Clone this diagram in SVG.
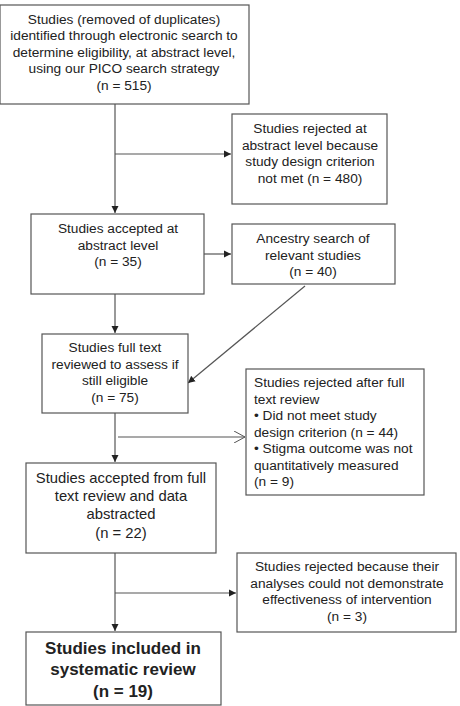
<svg xmlns="http://www.w3.org/2000/svg" width="460" height="706" viewBox="0 0 460 706">
<style>
.box{fill:#fff;stroke:#555;stroke-width:1.2}
.t{font-family:"Liberation Sans",Arial,sans-serif;font-size:13.7px;fill:#222;text-anchor:middle}
.l{text-anchor:start}
.m{font-size:14.8px}
.b{font-size:17px;font-weight:bold}
.c{fill:none;stroke:#555;stroke-width:1.2}
</style>
<defs>
<marker id="ah" markerWidth="8" markerHeight="8" refX="7" refY="4" orient="auto" markerUnits="userSpaceOnUse">
<path d="M0,0.5 L7,4 L0,7.5 Z" fill="#222"/>
</marker>
<marker id="oh" markerWidth="12" markerHeight="12" refX="11" refY="6" orient="auto" markerUnits="userSpaceOnUse">
<path d="M0,0 L11,6 L0,12" fill="none" stroke="#555" stroke-width="1"/>
</marker>
</defs>
<g id="connectors">
<line class="c" x1="115" y1="104" x2="115" y2="213" marker-end="url(#ah)"/>
<line class="c" x1="115" y1="154" x2="231" y2="154" marker-end="url(#ah)"/>
<line class="c" x1="204" y1="254" x2="231" y2="254" marker-end="url(#ah)"/>
<line class="c" x1="115" y1="294" x2="115" y2="333" marker-end="url(#ah)"/>
<line class="c" x1="305" y1="286" x2="188" y2="383" marker-end="url(#ah)"/>
<line class="c" x1="115" y1="413" x2="115" y2="462" marker-end="url(#ah)"/>
<line class="c" x1="118" y1="437" x2="245" y2="437" marker-end="url(#oh)"/>
<line class="c" x1="115" y1="553" x2="115" y2="631" marker-end="url(#ah)"/>
<line class="c" x1="115" y1="593" x2="236" y2="593" marker-end="url(#ah)"/>
</g>
<g id="n1">
<rect class="box" x="0" y="5" width="249" height="99"/>
<text class="t" x="124" y="23.5">Studies (removed of duplicates)</text>
<text class="t" x="124" y="40">identified through electronic search to</text>
<text class="t" x="124" y="56.5">determine eligibility, at abstract level,</text>
<text class="t" x="124" y="73">using our PICO search strategy</text>
<text class="t" x="124" y="89.5">(n = 515)</text>
</g>
<g id="n2">
<rect class="box" x="232" y="114" width="155" height="90"/>
<text class="t" x="310" y="133">Studies rejected at</text>
<text class="t" x="310" y="149.5">abstract level because</text>
<text class="t" x="310" y="166">study design criterion</text>
<text class="t" x="310" y="182.5">not met (n = 480)</text>
</g>
<g id="n3">
<rect class="box" x="31" y="214" width="173" height="80"/>
<text class="t" x="118" y="233">Studies accepted at</text>
<text class="t" x="118" y="249.5">abstract level</text>
<text class="t" x="118" y="266">(n = 35)</text>
</g>
<g id="n4">
<rect class="box" x="232" y="224" width="163" height="60"/>
<text class="t" x="313" y="243">Ancestry search of</text>
<text class="t" x="313" y="259.5">relevant studies</text>
<text class="t" x="313" y="276">(n = 40)</text>
</g>
<g id="n5">
<rect class="box" x="42" y="334" width="146" height="79"/>
<text class="t" x="115" y="352">Studies full text</text>
<text class="t" x="115" y="368.5">reviewed to assess if</text>
<text class="t" x="115" y="385">still eligible</text>
<text class="t" x="115" y="401.5">(n = 75)</text>
</g>
<g id="n6">
<rect class="box" x="246" y="369" width="178" height="126"/>
<text class="t l" x="254" y="387">Studies rejected after full</text>
<text class="t l" x="254" y="403.5">text review</text>
<text class="t l" x="254" y="420">• Did not meet study</text>
<text class="t l" x="254" y="436.5">design criterion (n = 44)</text>
<text class="t l" x="254" y="453">• Stigma outcome was not</text>
<text class="t l" x="254" y="469.5">quantitatively measured</text>
<text class="t l" x="254" y="486">(n = 9)</text>
</g>
<g id="n7">
<rect class="box" x="26" y="463" width="190" height="90"/>
<text class="t m" x="121" y="482.5">Studies accepted from full</text>
<text class="t m" x="121" y="500.5">text review and data</text>
<text class="t m" x="121" y="518.5">abstracted</text>
<text class="t m" x="121" y="537.5">(n = 22)</text>
</g>
<g id="n8">
<rect class="box" x="237" y="553" width="219" height="79"/>
<text class="t" x="347" y="571">Studies rejected because their</text>
<text class="t" x="347" y="587.5">analyses could not demonstrate</text>
<text class="t" x="347" y="604">effectiveness of intervention</text>
<text class="t" x="347" y="620.5">(n = 3)</text>
</g>
<g id="n9">
<rect class="box" x="26" y="632" width="195" height="73"/>
<text class="t b" x="123" y="654">Studies included in</text>
<text class="t b" x="123" y="675">systematic review</text>
<text class="t b" x="123" y="697">(n = 19)</text>
</g>
</svg>
